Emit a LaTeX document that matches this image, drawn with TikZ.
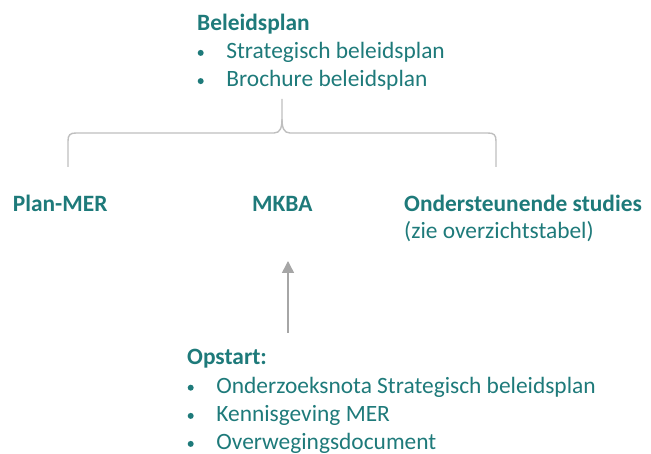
\documentclass[tikz,border=0pt]{standalone}
\usepackage{fontspec}
\setmainfont{Carlito}
\usetikzlibrary{arrows.meta}
\definecolor{petrol}{RGB}{30,122,122}
\definecolor{haakgrijs}{RGB}{191,191,191}
\definecolor{pijlgrijs}{RGB}{166,166,166}
\tikzstyle{tekst} = [inner sep=0pt, anchor=base west, text=petrol, font=\fontsize{23.4}{28}\selectfont]
\tikzstyle{kop} = [tekst, font=\fontsize{23.4}{28}\selectfont\bfseries]
\tikzstyle{bol} = [circle, inner sep=0pt, minimum size=6pt, fill=petrol]
\tikzstyle{haak} = [draw=haakgrijs, line width=1.4pt]
\tikzstyle{pijl} = [draw=pijlgrijs, line width=1.5pt, -{Triangle[width=12pt,length=12pt]}]
\newcommand{\punt}[4]{\node [bol] at (#1,#2-5.6) {}; \node [tekst] (#3) at (#1+25.5,#2) {#4};}

\begin{document}
\begin{tikzpicture}[x=1pt, y=-1pt]%
			\useasboundingbox (0,0) rectangle (651,454);%
			% beleidsplan bovenaan
			\node [kop] (beleid) at (197,31) {Beleidsplan};%
			\punt{200.7}{58.5}{strat}{Strategisch beleidsplan}%
			\punt{200.7}{86.7}{brochure}{Brochure beleidsplan}%
			% accolade
			\coordinate (tip) at (282,99);%
			\draw [haak] (68,167) -- (68,141) .. controls (68,135) and (70,133) .. (76,133) -- (274,133) .. controls (280,133) and (282,128) .. (282,119) -- (tip);%
			\draw [haak] (282,119) .. controls (282,128) and (284,133) .. (290,133) -- (488,133) .. controls (494,133) and (496,135) .. (496,141) -- (496,167);%
			% drie onderdelen
			\node [kop] (planmer) at (12.7,211.7) {Plan-MER};%
			\node [kop] (mkba) at (252,211.7) {MKBA};%
			\node [kop] (studies) at (404,211.7) {Ondersteunende studies};%
			\node [tekst] (tabel) at (404,239) {(zie overzichtstabel)};%
			% opstart onderaan
			\coordinate (pijlvoet) at (288,333);%
			\coordinate (pijlpunt) at (288,261);%
			\draw [pijl] (pijlvoet) -- (pijlpunt);%
			\node [kop] (opstart) at (187,365) {Opstart:};%
			\punt{190.7}{393.3}{nota}{Onderzoeksnota Strategisch beleidsplan}%
			\punt{190.7}{421.5}{kennis}{Kennisgeving MER}%
			\punt{190.7}{449.5}{overweging}{Overwegingsdocument}%
		\end{tikzpicture}
\end{document}
